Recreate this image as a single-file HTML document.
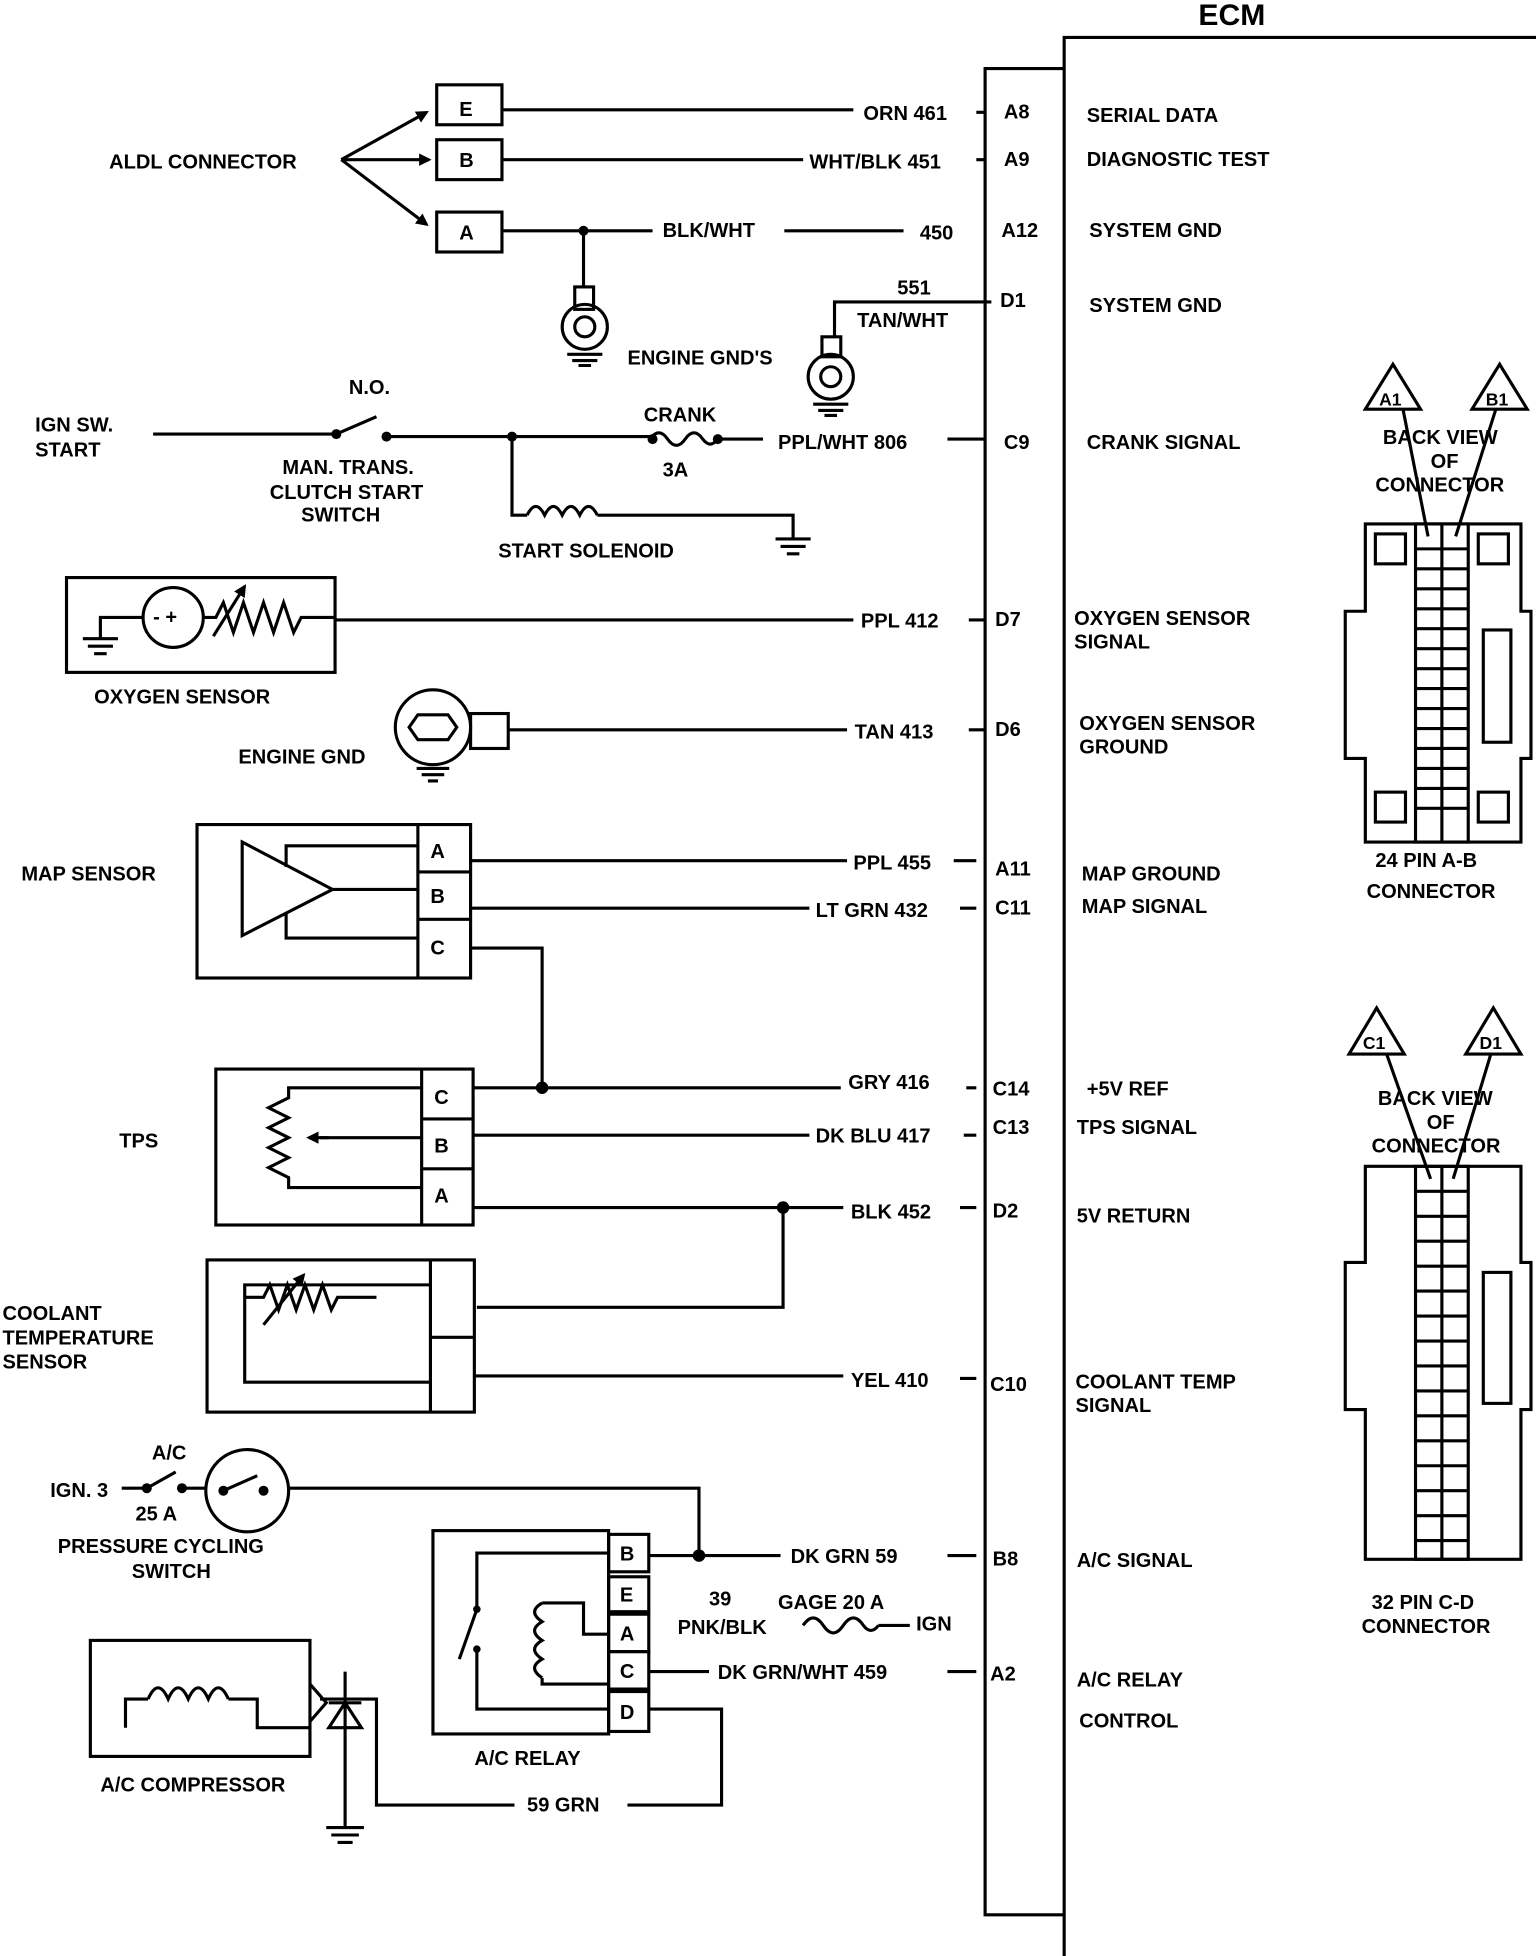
<!DOCTYPE html>
<html><head><meta charset="utf-8"><style>
html,body{margin:0;padding:0;background:#fff}
svg{display:block}
text{font-family:"Liberation Sans",sans-serif;font-weight:bold;font-size:16px;fill:#000}
</style></head><body>
<svg width="1536" height="1956" viewBox="0 0 1224 1568" preserveAspectRatio="none" xmlns="http://www.w3.org/2000/svg">
<defs><marker id="ar" markerWidth="10" markerHeight="10" refX="8" refY="5" orient="auto" markerUnits="userSpaceOnUse" viewBox="0 0 10 10"><path d="M0,0 L10,5 L0,10 z" fill="#000"/></marker></defs>
<g fill="none" stroke="#000" stroke-width="2.5">
<!-- ECM -->
<path d="M848,1568 V30 H1224"/>
<path d="M848,55 H785 V1535 H848"/>
<!-- ALDL -->
<rect x="348" y="68" width="52" height="32"/><rect x="348" y="112" width="52" height="32"/><rect x="348" y="170" width="52" height="32"/>
<path d="M272,128 L340,90" marker-end="url(#ar)"/><path d="M272,128 L342,128" marker-end="url(#ar)"/><path d="M272,128 L340,180" marker-end="url(#ar)"/>
<path d="M400,88 H680 M778,90 H785 M400,128 H640 M778,128 H785 M400,185 H520 M625,185 H720 M465,185 V230"/>
<rect x="458" y="230" width="15" height="18"/><circle cx="466" cy="262" r="18"/><circle cx="466" cy="262" r="8"/>
<path d="M452,284 H480 M456,289 H476 M461,293 H471"/>
<path d="M665,270 V242 H790"/>
<rect x="655" y="270" width="15" height="16"/><circle cx="662" cy="302" r="18"/><circle cx="662" cy="302" r="8"/>
<path d="M648,324 H676 M652,329 H672 M657,333 H667"/>
<!-- crank -->
<path d="M122,348 H268 M268,348 L300,334 M308,350 H518 M572,352 H608 M755,352 H785"/>
<path d="M518,352 q7,-10 14,0 q7,10 14,0 q7,-10 14,0 q6,8 12,0"/>
<path d="M408,350 V413 H420 M420,413 q7,-14 14,0 q7,-14 14,0 q7,-14 14,0 q7,-14 14,0 M476,413 H632 V432 M618,432 H646 M622,438 H642 M627,444 H637"/>
<!-- oxygen -->
<rect x="53" y="463" width="214" height="76"/>
<circle cx="138" cy="495" r="24"/>
<path d="M114,495 H80 V512 M66,512 H94 M70,518 H90 M75,524 H85"/>
<path d="M162,495 H172 l6,-12 l8,24 l8,-24 l8,24 l8,-24 l8,24 l8,-24 l8,24 l6,-12 H267"/>
<path d="M170,510 L195,470" marker-end="url(#ar)"/>
<path d="M267,497 H680 M772,497 H785"/>
<!-- engine gnd -->
<circle cx="345" cy="583" r="30"/><path d="M333,573 H357 L364,583 L357,593 H333 L326,583 Z"/>
<rect x="375" y="572" width="30" height="28"/>
<path d="M405,585 H675 M772,585 H785 M332,616 H358 M336,621 H354 M341,626 H349"/>
<!-- MAP -->
<rect x="157" y="661" width="218" height="123"/>
<path d="M333,661 V784 M333,699 H375 M333,737 H375"/>
<path d="M193,675 L265,713 L193,750 Z M228,695 V678 H333 M265,713 H333 M228,732 V752 H333"/>
<path d="M375,690 H675 M760,690 H778 M375,728 H645 M765,728 H778 M375,760 H432 V872"/>
<!-- TPS -->
<rect x="172" y="857" width="205" height="125"/>
<path d="M336,857 V982 M336,897 H377 M336,937 H377"/>
<path d="M336,872 H230 V880 l-16,8 l16,8 l-16,8 l16,8 l-16,8 l16,8 l-16,8 l16,8 V952 H336"/>
<path d="M336,912 H255"/><path d="M262,912 L246,912" marker-end="url(#ar)"/>
<path d="M377,872 H670 M770,872 H778 M377,910 H645 M768,910 H778 M377,968 H672 M765,968 H778 M624,968 V1048 H380"/>
<!-- coolant -->
<rect x="165" y="1010" width="213" height="122"/>
<path d="M343,1010 V1132 M343,1072 H378"/>
<path d="M343,1030 H195 V1108 H343 M195,1040 H210 l5,-10 l7,20 l7,-20 l7,20 l7,-20 l7,20 l7,-20 l7,20 l5,-10 H300"/>
<path d="M210,1062 L242,1022" marker-end="url(#ar)"/>
<path d="M378,1103 H672 M765,1105 H778"/>
<!-- A/C -->
<path d="M97,1193 H117 L140,1180 M145,1193 H164 M230,1193 H557 V1247"/>
<circle cx="197" cy="1195" r="33"/><path d="M178,1195 L205,1183"/>
<rect x="345" y="1227" width="140" height="163"/>
<rect x="485" y="1230" width="32" height="30"/><rect x="485" y="1264" width="32" height="28"/><rect x="485" y="1294" width="32" height="30"/><rect x="485" y="1324" width="32" height="30"/><rect x="485" y="1356" width="32" height="32"/>
<path d="M485,1245 H380 V1290 L366,1330 M380,1322 V1370 H485 M485,1310 H465 V1285 H432 M432,1345 V1350 H485"/>
<path d="M432,1285 q-12,7 0,15 q-12,7 0,15 q-12,7 0,15 q-12,7 0,15"/>
<path d="M517,1247 H622 M755,1247 H778 M700,1303 H725 M517,1340 H565 M755,1340 H778 M517,1370 H575 V1447 H500 M410,1447 H300 V1362 H255"/>
<path d="M640,1303 q8,-12 16,0 q8,12 16,0 q8,-12 16,0 q6,8 12,0"/>
<rect x="72" y="1315" width="175" height="93"/>
<path d="M100,1385 V1362 H118 M118,1362 q8,-18 16,0 q8,-18 16,0 q8,-18 16,0 q8,-18 16,0 M182,1362 H205 V1385 H247"/>
<path d="M247,1350 L260,1365 L247,1380 M275,1340 V1465 M262,1385 L275,1365 L288,1385 Z M262,1365 H288 M260,1465 H290 M264,1471 H286 M269,1477 H281"/>
<!-- connectors right -->
<path d="M1110,292 L1088,328 H1132 Z M1195,292 L1173,328 H1217 Z M1118,328 L1138,430 M1192,328 L1160,430"/>
<path d="M1088,420 H1212 V490 H1220 V608 H1212 V675 H1088 V608 H1072 V490 H1088 Z"/>
<rect x="1128" y="420" width="42" height="255"/><path d="M1149,420 V675"/>
<path d="M1128,440 H1170 M1128,456 H1170 M1128,472 H1170 M1128,488 H1170 M1128,504 H1170 M1128,520 H1170 M1128,536 H1170 M1128,552 H1170 M1128,568 H1170 M1128,584 H1170 M1128,600 H1170 M1128,616 H1170 M1128,632 H1170 M1128,648 H1170"/>
<rect x="1096" y="428" width="24" height="24"/><rect x="1178" y="428" width="24" height="24"/><rect x="1096" y="635" width="24" height="24"/><rect x="1178" y="635" width="24" height="24"/>
<rect x="1182" y="505" width="22" height="90"/>
<path d="M1097,808 L1075,845 H1119 Z M1190,808 L1168,845 H1212 Z M1105,845 L1140,945 M1188,845 L1158,945"/>
<path d="M1088,935 H1212 V1012 H1220 V1130 H1212 V1250 H1088 V1130 H1072 V1012 H1088 Z"/>
<rect x="1128" y="935" width="42" height="315"/><path d="M1149,935 V1250"/>
<path d="M1128,955 H1170 M1128,975 H1170 M1128,995 H1170 M1128,1015 H1170 M1128,1035 H1170 M1128,1055 H1170 M1128,1075 H1170 M1128,1095 H1170 M1128,1115 H1170 M1128,1135 H1170 M1128,1155 H1170 M1128,1175 H1170 M1128,1195 H1170 M1128,1215 H1170 M1128,1235 H1170"/>
<rect x="1182" y="1020" width="22" height="105"/>
</g>
<g fill="#000">
<circle cx="465" cy="185" r="4"/><circle cx="268" cy="348" r="4"/><circle cx="308" cy="350" r="4"/><circle cx="408" cy="350" r="4"/><circle cx="520" cy="352" r="4"/><circle cx="572" cy="352" r="4"/>
<circle cx="432" cy="872" r="5"/><circle cx="624" cy="968" r="5"/><circle cx="117" cy="1193" r="4"/><circle cx="145" cy="1193" r="4"/><circle cx="557" cy="1247" r="5"/><circle cx="380" cy="1290" r="3"/><circle cx="380" cy="1322" r="3"/>
<circle cx="178" cy="1195" r="4"/><circle cx="210" cy="1195" r="4"/>
</g>
<text x="955" y="20" style="font-size:24px">ECM</text>
<text x="366" y="93">E</text><text x="366" y="134">B</text><text x="366" y="192">A</text>
<text x="87" y="135">ALDL CONNECTOR</text>
<text x="688" y="96">ORN 461</text><text x="800" y="95">A8</text><text x="866" y="98">SERIAL DATA</text>
<text x="645" y="135">WHT/BLK 451</text><text x="800" y="133">A9</text><text x="866" y="133">DIAGNOSTIC TEST</text>
<text x="528" y="190">BLK/WHT</text><text x="733" y="192">450</text><text x="798" y="190">A12</text><text x="868" y="190">SYSTEM GND</text>
<text x="715" y="236">551</text><text x="683" y="262">TAN/WHT</text><text x="797" y="246">D1</text><text x="868" y="250">SYSTEM GND</text>
<text x="500" y="292">ENGINE GND'S</text>
<text x="28" y="346">IGN SW.</text><text x="28" y="366">START</text><text x="278" y="316">N.O.</text>
<text x="513" y="338">CRANK</text><text x="528" y="382">3A</text><text x="620" y="360">PPL/WHT 806</text><text x="800" y="360">C9</text><text x="866" y="360">CRANK SIGNAL</text>
<text x="225" y="380">MAN. TRANS.</text><text x="215" y="400">CLUTCH START</text><text x="240" y="418">SWITCH</text><text x="397" y="447">START SOLENOID</text>
<text x="122" y="500">- +</text>
<text x="686" y="503">PPL 412</text><text x="793" y="502">D7</text><text x="856" y="501">OXYGEN SENSOR</text><text x="856" y="520">SIGNAL</text>
<text x="75" y="564">OXYGEN SENSOR</text>
<text x="681" y="592">TAN 413</text><text x="793" y="590">D6</text><text x="860" y="585">OXYGEN SENSOR</text><text x="860" y="604">GROUND</text>
<text x="190" y="612">ENGINE GND</text>
<text x="17" y="706">MAP SENSOR</text>
<text x="343" y="688">A</text><text x="343" y="724">B</text><text x="343" y="765">C</text>
<text x="680" y="697">PPL 455</text><text x="793" y="702">A11</text><text x="862" y="706">MAP GROUND</text>
<text x="650" y="735">LT GRN 432</text><text x="793" y="733">C11</text><text x="862" y="732">MAP SIGNAL</text>
<text x="95" y="920">TPS</text>
<text x="346" y="885">C</text><text x="346" y="924">B</text><text x="346" y="964">A</text>
<text x="676" y="873">GRY 416</text><text x="791" y="878">C14</text><text x="866" y="878">+5V REF</text>
<text x="650" y="916">DK BLU 417</text><text x="791" y="909">C13</text><text x="858" y="909">TPS SIGNAL</text>
<text x="678" y="977">BLK 452</text><text x="791" y="976">D2</text><text x="858" y="980">5V RETURN</text>
<text x="2" y="1058">COOLANT</text><text x="2" y="1078">TEMPERATURE</text><text x="2" y="1097">SENSOR</text>
<text x="678" y="1112">YEL 410</text><text x="789" y="1115">C10</text><text x="857" y="1113">COOLANT TEMP</text><text x="857" y="1132">SIGNAL</text>
<text x="40" y="1200">IGN. 3</text><text x="121" y="1170">A/C</text><text x="108" y="1219">25 A</text>
<text x="46" y="1245">PRESSURE CYCLING</text><text x="105" y="1265">SWITCH</text>
<text x="494" y="1251">B</text><text x="494" y="1284">E</text><text x="494" y="1315">A</text><text x="494" y="1345">C</text><text x="494" y="1378">D</text>
<text x="630" y="1253">DK GRN 59</text><text x="791" y="1255">B8</text><text x="858" y="1256">A/C SIGNAL</text>
<text x="565" y="1287">39</text><text x="540" y="1310">PNK/BLK</text><text x="620" y="1290">GAGE 20 A</text><text x="730" y="1307">IGN</text>
<text x="572" y="1346">DK GRN/WHT 459</text><text x="789" y="1347">A2</text><text x="858" y="1352">A/C RELAY</text><text x="860" y="1385">CONTROL</text>
<text x="378" y="1415">A/C RELAY</text><text x="420" y="1452">59 GRN</text><text x="80" y="1436">A/C COMPRESSOR</text>
<text x="1099" y="325" style="font-size:14px">A1</text><text x="1184" y="325" style="font-size:14px">B1</text>
<text x="1102" y="356">BACK VIEW</text><text x="1140" y="375">OF</text><text x="1096" y="394">CONNECTOR</text>
<text x="1096" y="695">24 PIN A-B</text><text x="1089" y="720">CONNECTOR</text>
<text x="1086" y="841" style="font-size:14px">C1</text><text x="1179" y="841" style="font-size:14px">D1</text>
<text x="1098" y="886">BACK VIEW</text><text x="1137" y="905">OF</text><text x="1093" y="924">CONNECTOR</text>
<text x="1093" y="1290">32 PIN C-D</text><text x="1085" y="1309">CONNECTOR</text>
</svg>
</body></html>
